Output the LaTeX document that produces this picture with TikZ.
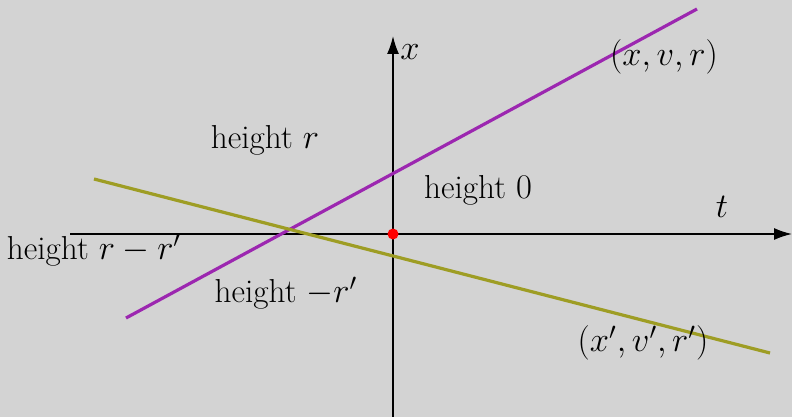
\documentclass[tikz,border=0pt]{standalone}
\usetikzlibrary{arrows.meta}
\definecolor{bg}{HTML}{D3D3D3}
\definecolor{lpurple}{HTML}{9C27B0}
\definecolor{lolive}{HTML}{9E9D24}
\begin{document}
\begin{tikzpicture}[x=0.5pt,y=-0.5pt,
  axis/.style={draw=black,line width=0.8pt,-{Latex[length=9pt,width=6pt]}},
  wline/.style={line width=1.6pt},
  lbl/.style={inner sep=0pt,font=\fontsize{16.6}{19}\selectfont}]
\fill[bg] (0,0) rectangle (792,417);
\useasboundingbox (0,0) rectangle (792,417);
\coordinate (hs) at (70,234);
\coordinate (he) at (792,234);
\coordinate (vs) at (393,417);
\coordinate (ve) at (393,36);
\coordinate (p1) at (126,318);
\coordinate (p2) at (697,9);
\coordinate (o1) at (94,179);
\coordinate (o2) at (770,353);
\draw[axis] (hs) -- (he);
\draw[axis] (vs) -- (ve);
\draw[wline,lpurple] (p1) -- (p2);
\draw[wline,lolive] (o1) -- (o2);
\node[circle,fill=red,inner sep=0pt,minimum size=5.5pt] (origin) at (393,234) {};
\node[lbl,anchor=west] (xl) at (400,52) {$x$};
\node[lbl] (tl) at (722,207) {$t$};
\node[lbl] (pl) at (664,57) {$(x,v,r)$};
\node[lbl] (ol) at (643,343) {$(x',v',r')$};
\node[lbl] (h1) at (265,140) {height $r$};
\node[lbl] (h2) at (478,190) {height $0$};
\node[lbl] (h3) at (94,250) {height $r-r'$};
\node[lbl] (h4) at (286,293) {height $-r'$};
\end{tikzpicture}
\end{document}
